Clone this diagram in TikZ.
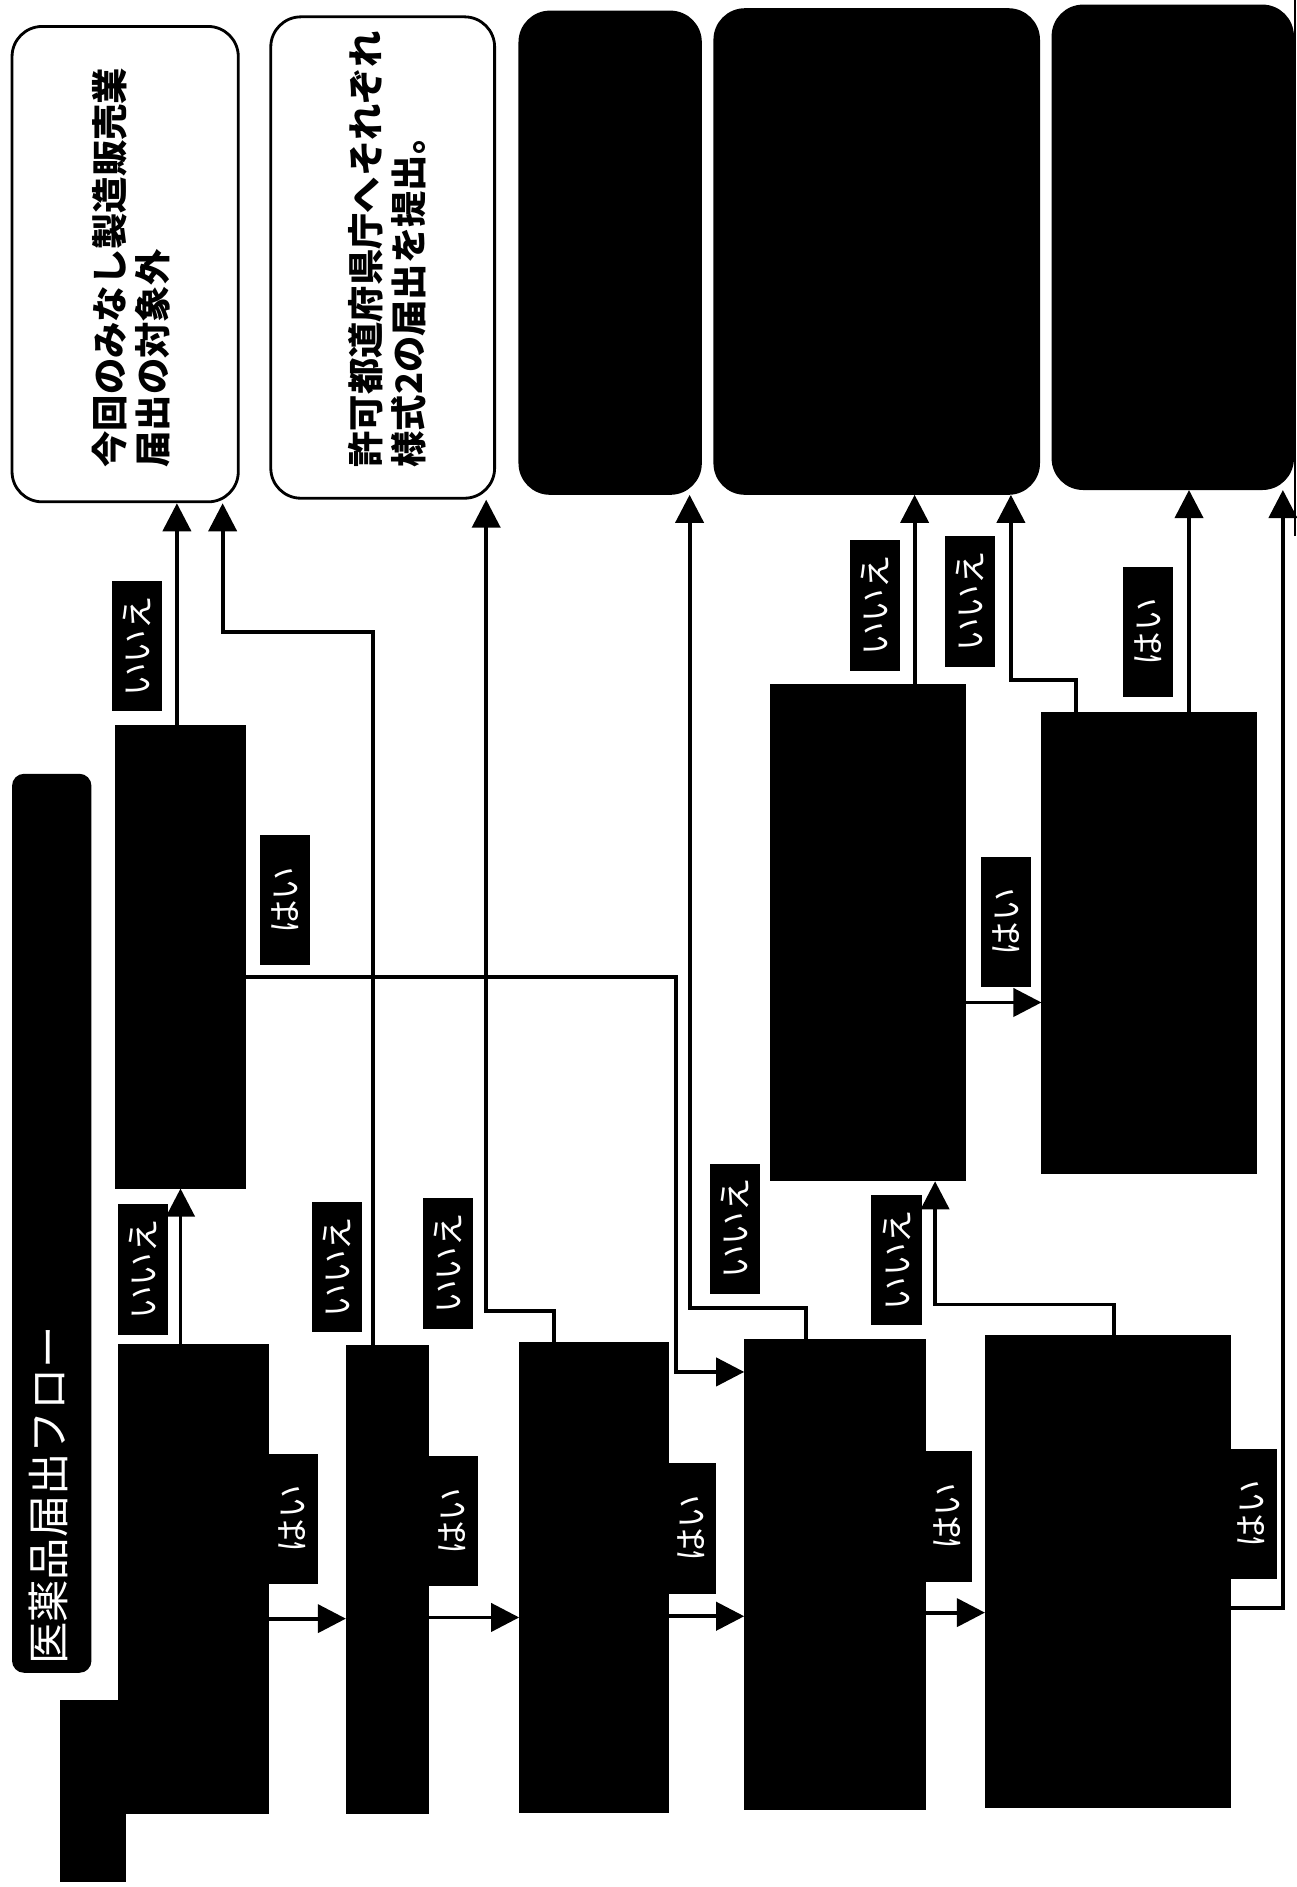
\documentclass[tikz,border=0pt]{standalone}
\usepackage{fontspec}
\setmainfont{Noto Sans CJK JP}
\usepackage{tikz}
\usetikzlibrary{arrows.meta, fit}
\tikzset{
  res/.style={rectangle, rounded corners=0.3cm, draw=black, line width=0.8pt, inner sep=0pt},
  resblk/.style={res, fill=black},
  qbox/.style={rectangle, draw=black, fill=black, inner sep=0pt},
  ttl/.style={rectangle, rounded corners=0.12cm, fill=black, inner sep=0pt},
  tag/.style={rectangle, fill=black, text=white, rotate=90, inner sep=0pt, minimum width=1.3cm, minimum height=0.5cm, font=\fontsize{9.5}{10}\selectfont},
  vtxt/.style={rotate=90, anchor=north west, align=left, inner sep=0pt, font=\fontsize{10.3}{12.2}\selectfont\bfseries},
  arr/.style={-{Triangle[length=0.28cm, width=0.28cm]}, line width=1.1pt},
}

\begin{document}
\begin{tikzpicture}[x=0.012cm, y=-0.012cm]
  \useasboundingbox (0,0) rectangle (1077,1568);
  % results
  \node[res, fit={(10,22) (198,417)}] (res1) {};
  \node[res, fit={(225,14) (411,414)}] (res2) {};
  \node[resblk, fit={(432,10) (582,410)}] (res3) {};
  \node[resblk, fit={(594,8) (863,410)}] (res4) {};
  \node[resblk, fit={(875,5) (1074,406)}] (res5) {};
  \node[vtxt] (t1) at (76,389) {今回のみなし製造販売業\\届出の対象外};
  \node[vtxt] (t2) at (289,389) {許可都道府県庁へそれぞれ\\様式2の届出を提出。};
  \draw[line width=0.8pt] (1076,0) -- (1076,445);
  % title
  \node[ttl, fit={(10,643) (76,1390)}] (title) {};
  \node[rotate=90, anchor=west, inner sep=0pt, text=white, font=\fontsize{12}{14}\selectfont] (ttxt) at (40,1384) {医薬品届出フロー};
  % questions
  \node[qbox, fit={(96,603) (204,987)}] (n1) {};
  \node[qbox, fit={(640,569) (802,981)}] (n2) {};
  \node[qbox, fit={(866,592) (1044,975)}] (n3) {};
  \fill (50,1413) rectangle (105,1564);
  \node[qbox, fit={(99,1117) (223,1507)}] (d1) {};
  \node[qbox, fit={(288,1118) (356,1507)}] (d2) {};
  \node[qbox, fit={(432,1116) (555,1506)}] (d3) {};
  \node[qbox, fit={(619,1113) (769,1503)}] (d4) {};
  \node[qbox, fit={(819,1110) (1022,1502)}] (d5) {};
  % flow
  \draw[arr] (d1.east |- 0,1345) -- (d2.west |- 0,1345);
  \draw[arr] (d2.east |- 0,1344) -- (d3.west |- 0,1344);
  \draw[arr] (d3.east |- 0,1343) -- (d4.west |- 0,1343);
  \draw[arr] (d4.east |- 0,1340) -- (d5.west |- 0,1340);
  \draw[arr] (d1.north -| 150,0) -- (n1.south -| 150,0);
  \draw[arr] (n1.north -| 147,0) -- (res1.south -| 147,0);
  \draw[arr] (n1.east |- 0,812) -| (562,1140) -- (d4.west |- 0,1140);
  \draw[arr] (d2.north -| 310,0) |- (185,525) -- (res1.south -| 185,0);
  \draw[arr] (d3.north -| 460,0) |- (404,1089) -- (res2.south -| 404,0);
  \draw[arr] (d4.north -| 670,0) |- (573,1087) -- (res3.south -| 573,0);
  \draw[arr] (d5.north -| 926,0) |- (777,1084) -- (n2.south -| 777,0);
  \draw[arr] (d5.east |- 0,1336) -| (res5.south -| 1066,0);
  \draw[arr] (n2.north -| 760,0) -- (res4.south -| 760,0);
  \draw[arr] (n2.east |- 0,833) -- (n3.west |- 0,833);
  \draw[arr] (n3.north -| 894,0) |- (840,565) -- (res4.south -| 840,0);
  \draw[arr] (n3.north -| 988,0) -- (res5.south -| 988,0);
  % answers
  \node[tag] (l1) at (114,537) {いいえ};
  \node[tag] (l2) at (237,748) {はい};
  \node[tag] (l3) at (119,1055) {いいえ};
  \node[tag] (l4) at (280,1053) {いいえ};
  \node[tag] (l5) at (372,1050) {いいえ};
  \node[tag] (l6) at (243,1262) {はい};
  \node[tag] (l7) at (376,1264) {はい};
  \node[tag] (l8) at (574,1270) {はい};
  \node[tag] (l9) at (787,1260) {はい};
  \node[tag] (l10) at (1040,1258) {はい};
  \node[tag] (l11) at (611,1021) {いいえ};
  \node[tag] (l12) at (745,1047) {いいえ};
  \node[tag] (l13) at (727,503) {いいえ};
  \node[tag] (l14) at (806,500) {いいえ};
  \node[tag] (l15) at (954,525) {はい};
  \node[tag] (l16) at (836,766) {はい};
\end{tikzpicture}
\end{document}
